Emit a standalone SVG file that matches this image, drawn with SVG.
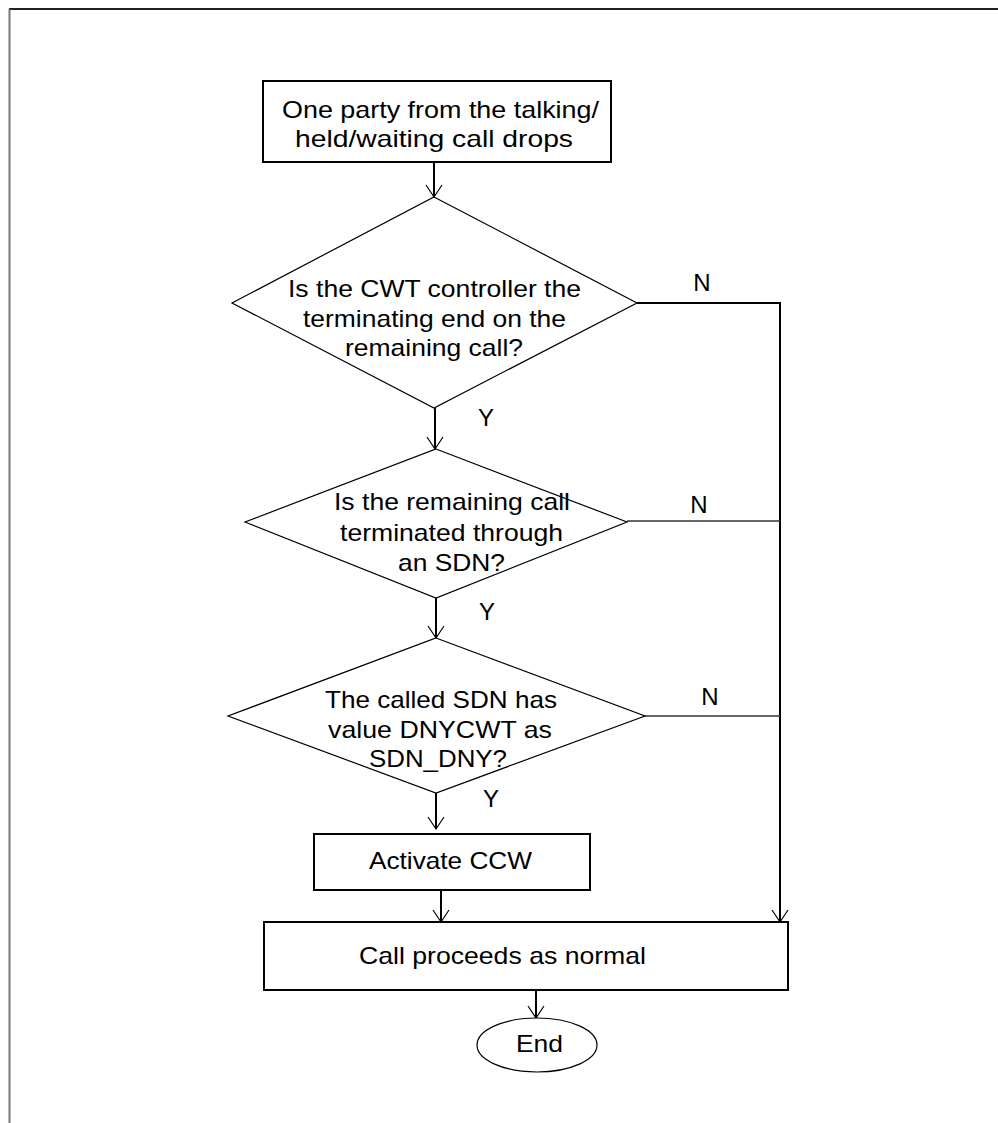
<svg xmlns="http://www.w3.org/2000/svg" width="998" height="1123" viewBox="0 0 998 1123">
<style>
.t{font-family:"Liberation Sans",Arial,sans-serif;font-size:24px;fill:#000}
.box{fill:#fff;stroke:#000;stroke-width:2}
.dia{fill:#fff;stroke:#000;stroke-width:1.2}
.ln{fill:none;stroke:#000;stroke-width:2}
.ln2{fill:none;stroke:#333;stroke-width:1.3}
</style>
<defs>
<marker id="ah" markerUnits="userSpaceOnUse" markerWidth="20" markerHeight="20" refX="0" refY="0" orient="auto" overflow="visible">
<path d="M-12,-8 L0,0 L-12,8" fill="none" stroke="#000" stroke-width="1.2"/>
</marker>
</defs>
<rect width="998" height="1123" fill="#fff"/>
<g id="page-border">
<line x1="9" y1="9" x2="998" y2="9" stroke="#222" stroke-width="2"/>
<line x1="9.5" y1="9" x2="9.5" y2="1123" stroke="#777" stroke-width="2"/>
</g>
<g id="connectors">
<line class="ln" x1="434" y1="162" x2="434" y2="197" marker-end="url(#ah)"/>
<line class="ln" x1="435" y1="408" x2="435" y2="449" marker-end="url(#ah)"/>
<line class="ln" x1="436" y1="598" x2="436" y2="638" marker-end="url(#ah)"/>
<line class="ln" x1="436" y1="793" x2="436" y2="829" marker-end="url(#ah)"/>
<line class="ln" x1="441" y1="890" x2="441" y2="922" marker-end="url(#ah)"/>
<line class="ln" x1="536" y1="990" x2="536" y2="1018" marker-end="url(#ah)"/>
<polyline class="ln" points="637,303 780,303 780,922" marker-end="url(#ah)"/>
<line class="ln2" x1="627" y1="521" x2="780" y2="521"/>
<line class="ln2" x1="645" y1="716" x2="780" y2="716"/>
<text class="t" x="702" y="291" text-anchor="middle">N</text>
<text class="t" x="699" y="513" text-anchor="middle">N</text>
<text class="t" x="710" y="705" text-anchor="middle">N</text>
<text class="t" x="486" y="426" text-anchor="middle">Y</text>
<text class="t" x="487" y="620" text-anchor="middle">Y</text>
<text class="t" x="491" y="807" text-anchor="middle">Y</text>
</g>
<g id="start">
<rect class="box" x="263" y="81" width="348" height="81"/>
<text class="t" x="282" y="118" textLength="317" lengthAdjust="spacingAndGlyphs">One party from the talking/</text>
<text class="t" x="295" y="147" textLength="278" lengthAdjust="spacingAndGlyphs">held/waiting call drops</text>
</g>
<g id="decision1">
<polygon class="dia" points="434,197 637,303 434,408 232,303"/>
<text class="t" x="288" y="297" textLength="293" lengthAdjust="spacingAndGlyphs">Is the CWT controller the</text>
<text class="t" x="303" y="327" textLength="263" lengthAdjust="spacingAndGlyphs">terminating end on the</text>
<text class="t" x="345" y="356" textLength="178" lengthAdjust="spacingAndGlyphs">remaining call?</text>
</g>
<g id="decision2">
<polygon class="dia" points="436,449 627,522 436,598 245,522"/>
<text class="t" x="334" y="510" textLength="236" lengthAdjust="spacingAndGlyphs">Is the remaining call</text>
<text class="t" x="340" y="541" textLength="223" lengthAdjust="spacingAndGlyphs">terminated through</text>
<text class="t" x="398" y="571" textLength="107" lengthAdjust="spacingAndGlyphs">an SDN?</text>
</g>
<g id="decision3">
<polygon class="dia" points="436,638 645,716 436,793 228,716"/>
<text class="t" x="325" y="708" textLength="232" lengthAdjust="spacingAndGlyphs">The called SDN has</text>
<text class="t" x="328" y="738" textLength="224" lengthAdjust="spacingAndGlyphs">value DNYCWT as</text>
<text class="t" x="369" y="767" textLength="138" lengthAdjust="spacingAndGlyphs">SDN_DNY?</text>
</g>
<g id="activate">
<rect class="box" x="314" y="834" width="276" height="56"/>
<text class="t" x="369" y="869" textLength="163" lengthAdjust="spacingAndGlyphs">Activate CCW</text>
</g>
<g id="proceed">
<rect class="box" x="264" y="922" width="524" height="68"/>
<text class="t" x="359" y="964" textLength="287" lengthAdjust="spacingAndGlyphs">Call proceeds as normal</text>
</g>
<g id="end">
<ellipse cx="537" cy="1045" rx="60" ry="27" fill="#fff" stroke="#000" stroke-width="1.2"/>
<text class="t" x="516" y="1052" textLength="47" lengthAdjust="spacingAndGlyphs">End</text>
</g>
</svg>
